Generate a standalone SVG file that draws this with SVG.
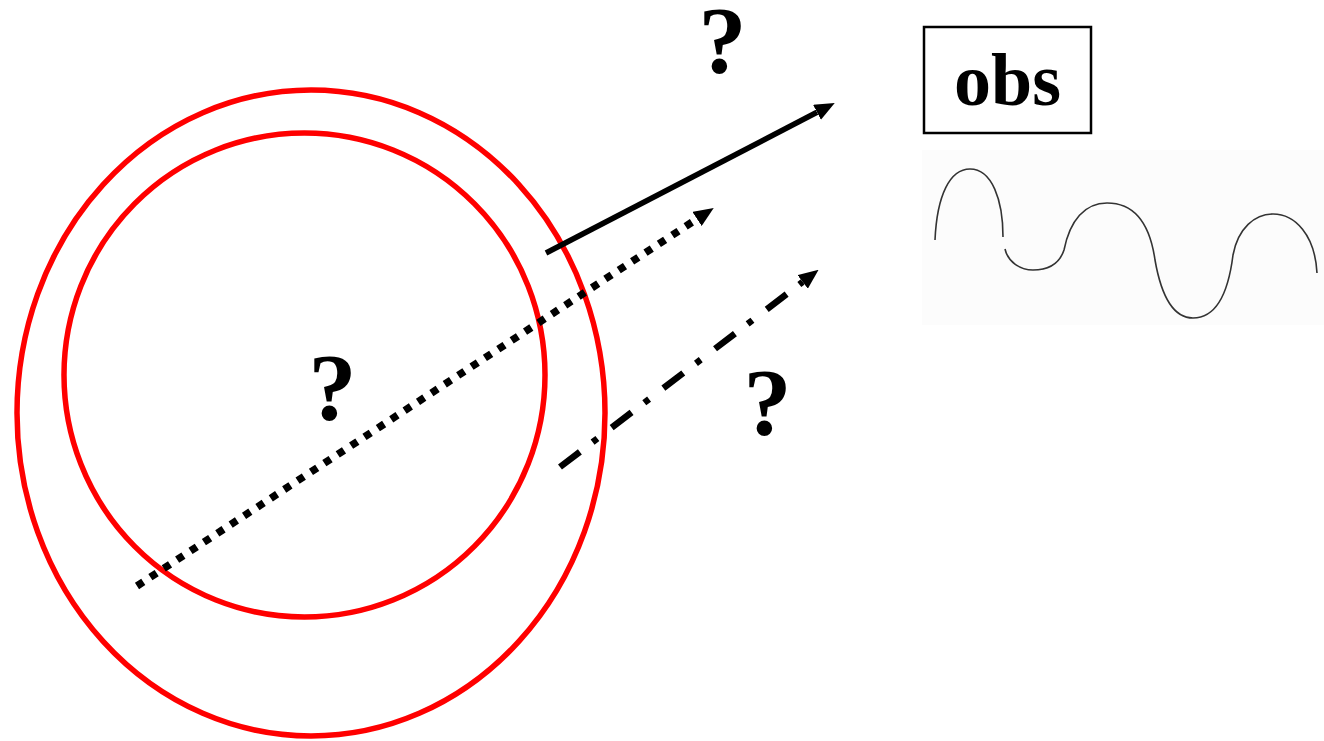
<svg xmlns="http://www.w3.org/2000/svg" width="1324" height="741" viewBox="0 0 1324 741">
<style>
.ring{fill:none;stroke:#ff0000;stroke-width:5.5}
.q{font-family:"Liberation Serif","Times New Roman",serif;font-weight:bold;font-size:96px;fill:#000;text-anchor:middle}
.obs{font-family:"Liberation Serif","Times New Roman",serif;font-weight:bold;font-size:74px;fill:#000;text-anchor:middle}
.arr{fill:none;stroke:#000;stroke-linecap:butt;marker-end:url(#head)}
.wave{fill:none;stroke:#333;stroke-width:1.6}
</style>
<defs>
<marker id="head" viewBox="0 0 20 17" refX="0" refY="8.5" markerWidth="20" markerHeight="17" markerUnits="userSpaceOnUse" orient="auto">
<path d="M0,0 L20,8.5 L0,17 z" fill="#000"/>
</marker>
</defs>
<rect width="1324" height="741" fill="#fff"/>
<g id="outer-ring"><ellipse class="ring" cx="311" cy="413" rx="294" ry="323"/></g>
<g id="inner-ring"><ellipse class="ring" cx="304.5" cy="375" rx="240.5" ry="242"/></g>
<g id="connectors">
<line class="arr" x1="546" y1="253" x2="817" y2="112.3" stroke-width="5.5"/>
<line class="arr" x1="137" y1="586" x2="697" y2="218.9" stroke-width="7.5" stroke-dasharray="7.5 8.5"/>
<line class="arr" x1="560" y1="467" x2="802.7" y2="281.9" stroke-width="6.5" stroke-dasharray="25 16 6 18"/>
</g>
<g id="label-top"><text class="q" x="722.5" y="73">?</text></g>
<g id="label-center"><text class="q" x="332.5" y="420">?</text></g>
<g id="label-right"><text class="q" x="767.5" y="435">?</text></g>
<g id="obs">
<rect x="924" y="27" width="167" height="106" fill="#fff" stroke="#000" stroke-width="2.5"/>
<text class="obs" x="1007.5" y="105">obs</text>
</g>
<g id="signal">
<rect x="922" y="150" width="402" height="175" fill="#fcfcfc"/>
<path class="wave" d="M935,240 C937,195 950,169 970,169 C992,169 1003,200 1003,237"/>
<path class="wave" d="M1005,249 C1008,262 1020,270 1033,270 C1050,270 1060,262 1064,250 C1070,220 1085,203 1107,203 C1135,203 1150,225 1155,260 C1162,300 1175,318 1193,318 C1215,318 1228,295 1233,255 C1238,228 1255,214 1273,214 C1295,214 1315,235 1317,273"/>
</g>
</svg>
